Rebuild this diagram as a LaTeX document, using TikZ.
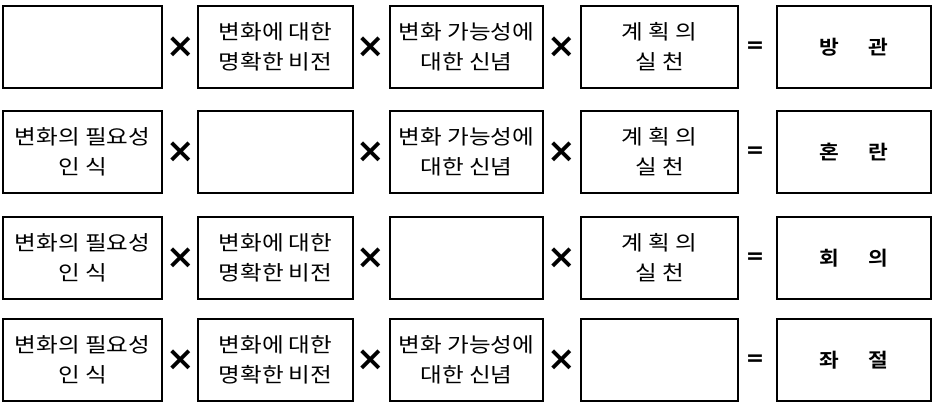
\documentclass[tikz,border=0pt]{standalone}
\usepackage{fontspec}
\newfontfamily\kr[FakeStretch=1.15]{Noto Sans CJK KR}
\newfontfamily\krb[FakeStretch=1.1]{Noto Sans CJK KR Bold}
\newfontfamily\dv{DejaVu Sans}
\begin{document}
\begin{tikzpicture}[x=1pt,y=-1pt,
  box/.style={draw, line width=1.3pt, minimum height=82pt, inner sep=0pt, align=center,
    font=\kr\fontsize{20.5}{30}\selectfont},
  resbox/.style={box, font=\krb\fontsize{19.5}{30}\selectfont},
  op/.style={inner sep=0pt, font=\dv\bfseries\fontsize{34}{34}\selectfont},
  eq/.style={inner sep=0pt, font=\dv\bfseries\fontsize{22}{22}\selectfont}]
\useasboundingbox (0,0) rectangle (934,404);
\def\yA{47}\def\yB{152}\def\yC{258}\def\yD{360}
\def\gap{\hspace{29pt}}
% Row 1
\node[box, minimum width=159pt] (a1) at (82.5,\yA) {};
\node[op] (ax1) at (181,\yA) {×};
\node[box, minimum width=155pt] (a2) at (275.5,\yA) {변화에 대한\\명확한 비전};
\node[op] (ax2) at (371,\yA) {×};
\node[box, minimum width=153pt] (a3) at (466.5,\yA) {변화 가능성에\\대한 신념};
\node[op] (ax3) at (562,\yA) {×};
\node[box, minimum width=157pt] (a4) at (659.5,\yA) {계 획 의\\실 천};
\node[eq] (aeq) at (755,\yA) {=};
\node[resbox, minimum width=154pt] (a5) at (854,\yA) {방\gap 관};
% Row 2
\node[box, minimum width=159pt] (b1) at (82.5,\yB) {변화의 필요성\\인 식};
\node[op] (bx1) at (181,\yB) {×};
\node[box, minimum width=155pt] (b2) at (275.5,\yB) {};
\node[op] (bx2) at (371,\yB) {×};
\node[box, minimum width=153pt] (b3) at (466.5,\yB) {변화 가능성에\\대한 신념};
\node[op] (bx3) at (562,\yB) {×};
\node[box, minimum width=157pt] (b4) at (659.5,\yB) {계 획 의\\실 천};
\node[eq] (beq) at (755,\yB) {=};
\node[resbox, minimum width=154pt] (b5) at (854,\yB) {혼\gap 란};
% Row 3
\node[box, minimum width=159pt] (c1) at (82.5,\yC) {변화의 필요성\\인 식};
\node[op] (cx1) at (181,\yC) {×};
\node[box, minimum width=155pt] (c2) at (275.5,\yC) {변화에 대한\\명확한 비전};
\node[op] (cx2) at (371,\yC) {×};
\node[box, minimum width=153pt] (c3) at (466.5,\yC) {};
\node[op] (cx3) at (562,\yC) {×};
\node[box, minimum width=157pt] (c4) at (659.5,\yC) {계 획 의\\실 천};
\node[eq] (ceq) at (755,\yC) {=};
\node[resbox, minimum width=154pt] (c5) at (854,\yC) {회\gap 의};
% Row 4
\node[box, minimum width=159pt] (d1) at (82.5,\yD) {변화의 필요성\\인 식};
\node[op] (dx1) at (181,\yD) {×};
\node[box, minimum width=155pt] (d2) at (275.5,\yD) {변화에 대한\\명확한 비전};
\node[op] (dx2) at (371,\yD) {×};
\node[box, minimum width=153pt] (d3) at (466.5,\yD) {변화 가능성에\\대한 신념};
\node[op] (dx3) at (562,\yD) {×};
\node[box, minimum width=157pt] (d4) at (659.5,\yD) {};
\node[eq] (deq) at (755,\yD) {=};
\node[resbox, minimum width=154pt] (d5) at (854,\yD) {좌\gap 절};
\end{tikzpicture}
\end{document}
